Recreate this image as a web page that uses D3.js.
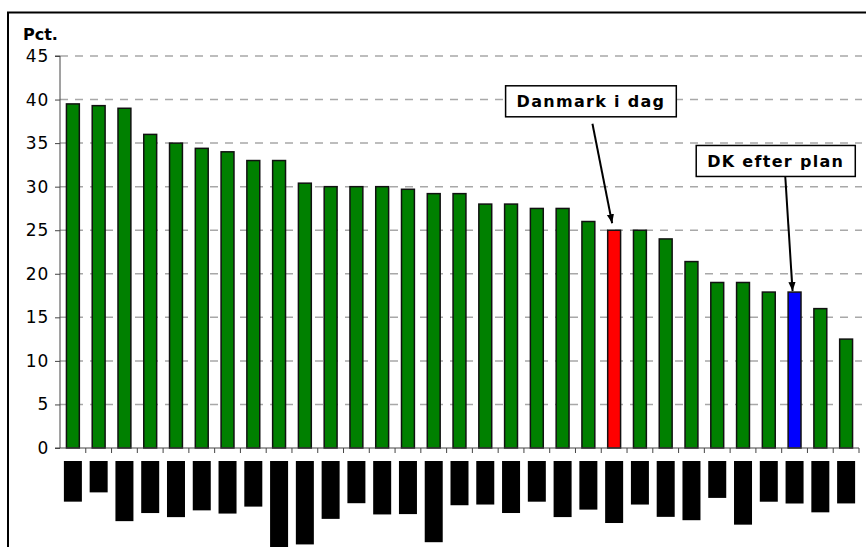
<!DOCTYPE html>
<html>
<head>
<meta charset="utf-8">
<script src="https://cdn.jsdelivr.net/npm/d3@7"></script>
<style>
  body { margin: 0; background: #fff; }
  text { font-family: "DejaVu Sans", Verdana, sans-serif; }
</style>
</head>
<body>
<script>
// Chart data
var countries = ["Japan", "USA", "Tyskland", "Canada", "Spanien", "Mexico", "Belgien", "Italien",
  "New Zealand", "Luxembourg", "Frankrig", "Korea", "Holland", "Sverige", "Grækenland", "Østrig",
  "Norge", "Finland", "Polen", "Schweiz", "Tyrkiet", "Danmark", "Island", "Tjekkiet", "Portugal",
  "Chile", "Slovakiet", "Israel", "DK ny", "Ungarn", "Irland"];
var rates = [39.5, 39.3, 39, 36, 35, 34.4, 34, 33, 33, 30.4, 30, 30, 30, 29.7, 29.2, 29.2,
  28, 28, 27.5, 27.5, 26, 25, 25, 24, 21.4, 19, 19, 17.9, 17.9, 16, 12.5];
var barColors = {"Danmark": "#ff0000", "DK ny": "#0000ff"};
var yTicks = [0, 5, 10, 15, 20, 25, 30, 35, 40, 45];
var yTitle = "Pct.";

// Callouts: label text, target bar, box centre in data units (band index, pct)
var callouts = [
  {label: "Danmark i dag", target: "Danmark", bx: 20.6, by: 39.8, dx: 1.5},
  {label: "DK efter plan", target: "DK ny", bx: 27.77, by: 32.95, dx: 9.5}
];

// SVG area
var svgWidth = 866;
var svgHeight = 547;

var margin = {top: 56, right: 7, bottom: 99, left: 60};
var chartWidth = svgWidth - margin.left - margin.right;
var chartHeight = svgHeight - margin.top - margin.bottom;

var svg = d3.select("body")
  .append("svg")
  .attr("width", svgWidth)
  .attr("height", svgHeight);

// outer frame (runs off the right and bottom edges)
svg.append("rect")
  .attr("x", 8)
  .attr("y", 12.5)
  .attr("width", svgWidth + 20)
  .attr("height", svgHeight + 20)
  .attr("fill", "none")
  .attr("stroke", "#000")
  .attr("stroke-width", 2);

var chartGroup = svg.append("g")
  .attr("transform", `translate(${margin.left}, ${margin.top})`);

// scales
var xBandScale = d3.scaleBand()
  .domain(countries)
  .range([0, chartWidth])
  .paddingInner(0.5)
  .paddingOuter(0.25);

var yLinearScale = d3.scaleLinear()
  .domain([0, 45])
  .range([chartHeight, 0]);

var step = xBandScale.step();
var bw = xBandScale.bandwidth();
var center = d => xBandScale(d) + bw / 2;

// dashed gridlines
chartGroup.selectAll(".grid")
  .data(yTicks.filter(t => t > 0))
  .enter()
  .append("line")
  .attr("x1", 0)
  .attr("x2", chartWidth + 3)
  .attr("y1", d => yLinearScale(d))
  .attr("y2", d => yLinearScale(d))
  .attr("stroke", "#a8a8a8")
  .attr("stroke-width", 1.5)
  .attr("stroke-dasharray", "8,7");

// y axis
var leftAxis = d3.axisLeft(yLinearScale)
  .tickValues(yTicks)
  .tickSize(5)
  .tickPadding(6);

var yAxisG = chartGroup.append("g")
  .call(leftAxis);
yAxisG.select(".domain").attr("stroke", "#444").attr("d", `M-5,${chartHeight}H0V0H-5`);
yAxisG.selectAll(".tick line").attr("stroke", "#444");
yAxisG.selectAll(".tick text")
  .attr("font-size", "17px")
  .attr("letter-spacing", "0.8px")
  .attr("fill", "#000")
  .style("font-family", "DejaVu Sans, Verdana, sans-serif");

// y axis title
svg.append("text")
  .attr("x", 23)
  .attr("y", 39.5)
  .attr("font-size", "16px")
  .attr("font-weight", "bold")
  .attr("fill", "#000")
  .text(yTitle);

// bars
chartGroup.selectAll(".bar")
  .data(countries)
  .enter()
  .append("rect")
  .attr("x", d => xBandScale(d))
  .attr("y", (d, i) => yLinearScale(rates[i]))
  .attr("width", bw)
  .attr("height", (d, i) => chartHeight - yLinearScale(rates[i]))
  .attr("fill", d => barColors[d] || "#008000")
  .attr("stroke", "#111")
  .attr("stroke-width", 1.5);

// x axis: line with ticks between categories
var xAxisG = chartGroup.append("g")
  .attr("transform", `translate(0, ${chartHeight})`);
xAxisG.append("line")
  .attr("x1", 0)
  .attr("x2", chartWidth)
  .attr("stroke", "#444");
xAxisG.selectAll(".xtick")
  .data(countries)
  .enter()
  .append("line")
  .attr("x1", d => center(d) + step / 2)
  .attr("x2", d => center(d) + step / 2)
  .attr("y1", 0)
  .attr("y2", 5)
  .attr("stroke", "#444");

// category labels, blacked out like in the source
var labelG = xAxisG.selectAll(".xlabel")
  .data(countries)
  .enter()
  .append("g")
  .attr("transform", d => `translate(${center(d)}, 13) rotate(-90)`);

labelG.append("text")
  .attr("x", -3)
  .attr("y", 0)
  .attr("dy", "0.35em")
  .attr("text-anchor", "end")
  .attr("font-size", "11px")
  .attr("font-weight", "bold")
  .attr("fill", "#000")
  .text(d => d);

labelG.insert("rect", "text")
  .attr("x", function() {
    var len = this.parentNode.querySelector("text").getComputedTextLength();
    return -len - 6;
  })
  .attr("y", -9)
  .attr("width", function() {
    return this.parentNode.querySelector("text").getComputedTextLength() + 6;
  })
  .attr("height", 18)
  .attr("fill", "#000");

// arrowhead marker
svg.append("defs")
  .append("marker")
  .attr("id", "arrow")
  .attr("viewBox", "0 0 10 10")
  .attr("refX", 10)
  .attr("refY", 5)
  .attr("markerWidth", 9)
  .attr("markerHeight", 9)
  .attr("markerUnits", "userSpaceOnUse")
  .attr("orient", "auto")
  .append("path")
  .attr("d", "M0,1L10,5L0,9Z")
  .attr("fill", "#000");

// callout boxes with arrows
callouts.forEach(function(c) {
  var cx = c.bx * step;
  var cy = yLinearScale(c.by);
  var g = chartGroup.append("g");

  var t = g.append("text")
    .attr("x", cx)
    .attr("y", cy)
    .attr("dy", "0.36em")
    .attr("text-anchor", "middle")
    .attr("font-size", "16px")
    .attr("font-weight", "bold")
    .attr("letter-spacing", "1.3px")
    .attr("fill", "#000")
    .text(c.label);

  var len = t.node().getComputedTextLength();
  var boxW = len + 22;
  var boxH = 31;

  g.insert("rect", "text")
    .attr("x", cx - boxW / 2)
    .attr("y", cy - boxH / 2)
    .attr("width", boxW)
    .attr("height", boxH)
    .attr("fill", "#fff")
    .attr("stroke", "#000")
    .attr("stroke-width", 1.5);

  var i = countries.indexOf(c.target);
  g.append("line")
    .attr("x1", cx + c.dx)
    .attr("y1", cy + boxH / 2 + (c.dx < 5 ? 7 : 0))
    .attr("x2", center(c.target) - 2)
    .attr("y2", yLinearScale(rates[i]) - (c.dx < 5 ? 7 : 1))
    .attr("stroke", "#000")
    .attr("stroke-width", 2)
    .attr("marker-end", "url(#arrow)");
});
</script>
</body>
</html>
